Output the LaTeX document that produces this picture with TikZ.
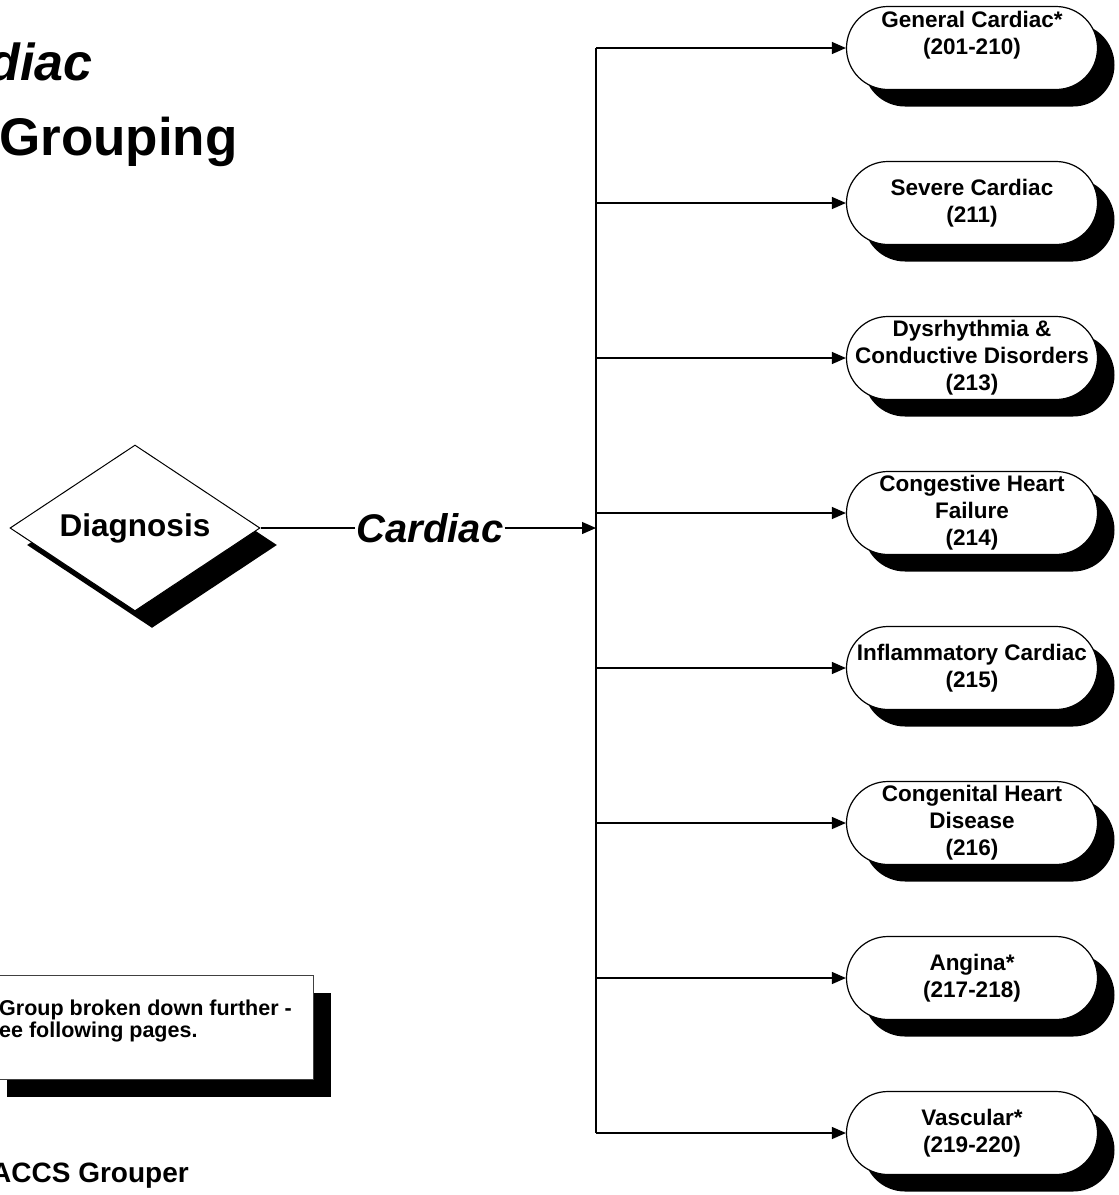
\documentclass[tikz,border=0pt]{standalone}
\usepackage{fontspec}
\setmainfont{Liberation Sans}
\usetikzlibrary{shapes.geometric, shapes.misc, shadows, arrows.meta}

\tikzset{
    blackshadow/.style={drop shadow={shadow xshift=17pt, shadow yshift=-17pt, fill=black, opacity=1}},
    pill/.style={rounded rectangle, draw, line width=1.2pt, fill=white, blackshadow,
        minimum width=251pt, minimum height=83pt, inner sep=0pt, align=center,
        font=\fontsize{22.5}{27}\selectfont\bfseries},
    branch/.style={line width=1.2pt, -{Triangle[length=14pt, width=12pt]}},
}

\begin{document}
\begin{tikzpicture}[x=1pt, y=-1pt]
    \useasboundingbox (0, 0) rectangle (1119, 1195);
    \clip (0, 0) rectangle (1119, 1195);

    \coordinate (busx) at (596, 0);
    \coordinate (join) at (596, 528);

    % Title
    \node[anchor=base east, inner sep=0pt, font=\fontsize{52}{60}\selectfont\bfseries\itshape] (title1) at (93, 80) {diac};
    \node[anchor=base west, inner sep=0pt, font=\fontsize{53}{60}\selectfont\bfseries] (title2) at (-1, 155) {Grouping};

    % Decision
    \node[diamond, draw, line width=1pt, fill=white, blackshadow, aspect=1.5, inner sep=0pt,
        minimum width=250pt, minimum height=166pt,
        font=\fontsize{31.5}{36}\selectfont\bfseries] (diag) at (135, 528) {Diagnosis};
    \node[inner sep=1pt, font=\fontsize{40}{44}\selectfont\bfseries\itshape] (lbl) at (430, 528) {Cardiac};
    \draw[line width=1.2pt] (diag.east) -- (lbl.west);
    \draw[branch] (lbl.east) -- (join);

    % Groups
    \node[pill] (gen) at (972, 48)   {General Cardiac*\\(201-210)\\[4pt]~};
    \node[pill] (sev) at (972, 203)  {Severe Cardiac\\(211)};
    \node[pill] (dys) at (972, 358)  {Dysrhythmia \&\\\makebox[0pt]{Conductive Disorders}\\(213)};
    \node[pill] (chf) at (972, 513)  {Congestive Heart\\Failure\\(214)};
    \node[pill] (inf) at (972, 668)  {Inflammatory Cardiac\\(215)};
    \node[pill] (chd) at (972, 823)  {Congenital Heart\\Disease\\(216)};
    \node[pill] (ang) at (972, 978)  {Angina*\\(217-218)};
    \node[pill] (vas) at (972, 1133) {Vascular*\\(219-220)};

    % Bus and branches
    \draw[line width=1.2pt] (busx |- gen.west) -- (busx |- vas.west);
    \foreach \g in {gen, sev, dys, chf, inf, chd, ang, vas}
        \draw[branch] (busx |- \g.west) -- (\g.west);

    % Note
    \node[draw=black!75, line width=1pt, fill=white, blackshadow, anchor=north west,
        minimum width=324pt, minimum height=104pt] (notebox) at (-11, 975) {};
    \node[anchor=west, inner sep=0pt, align=left, font=\fontsize{21.5}{22.5}\selectfont\bfseries] (notetext) at (-1, 1021)
        {Group broken down further -\\ee following pages.};

    % Footer
    \node[anchor=base west, inner sep=0pt, font=\fontsize{28}{32}\selectfont\bfseries] (foot) at (-9, 1182) {ACCS Grouper};
\end{tikzpicture}
\end{document}
